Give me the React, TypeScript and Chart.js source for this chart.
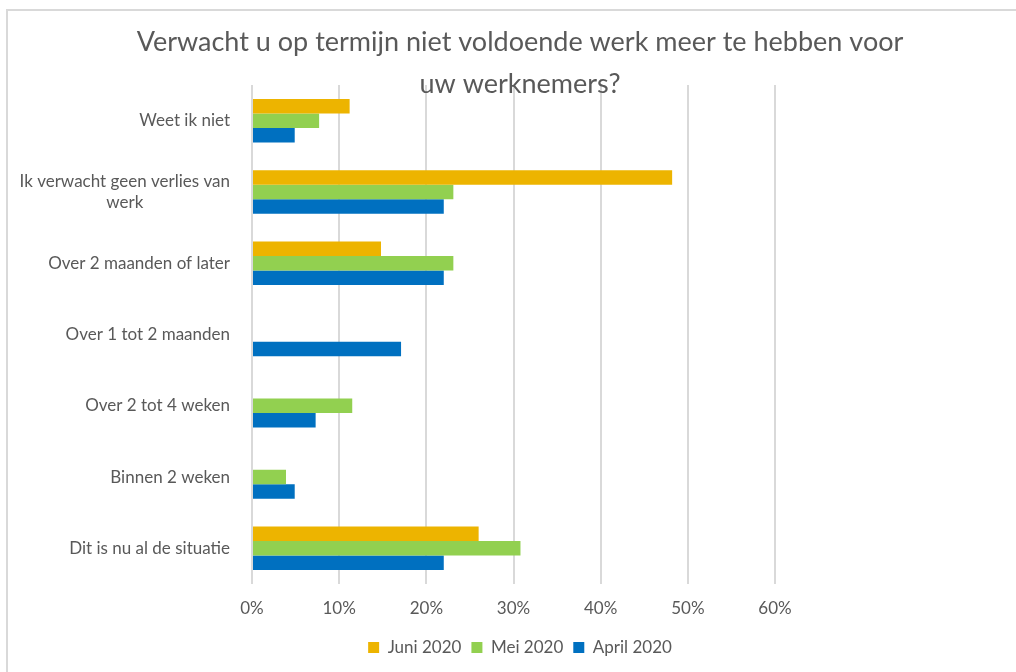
import React, { useEffect, useRef } from "react";
import { Chart, registerables } from "chart.js";

Chart.register(...registerables);

const TITLE_LINES = [
  "Verwacht u op termijn niet voldoende werk meer te hebben voor",
  "uw werknemers?",
];

const categories: (string | string[])[] = [
  "Weet ik niet",
  ["Ik verwacht geen verlies van", "werk"],
  "Over 2 maanden of later",
  "Over 1 tot 2 maanden",
  "Over 2 tot 4 weken",
  "Binnen 2 weken",
  "Dit is nu al de situatie",
];

const juni2020: (number | null)[] = [11.2, 48.2, 14.8, null, null, null, 26.0];
const mei2020: (number | null)[] = [7.7, 23.1, 23.1, null, 11.5, 3.9, 30.8];
const april2020: (number | null)[] = [4.9, 22.0, 22.0, 17.1, 7.3, 4.9, 22.0];

const seriesNames = ["Juni 2020", "Mei 2020", "April 2020"];
const seriesColors = ["#EDB400", "#92D050", "#0070C0"];

const xTicks = [0, 10, 20, 30, 40, 50, 60];

const FONT = "Lato";
const TEXT = "#595959";

const yLabelPlugin = {
  id: "yLabelPlugin",
  afterDraw(chart: any) {
    const { ctx, chartArea, scales } = chart;
    const y = scales.y;
    ctx.save();
    ctx.font = `17px ${FONT}`;
    ctx.fillStyle = TEXT;
    ctx.textBaseline = "middle";
    ctx.textAlign = "center";
    const right = chartArea.left - 22;
    categories.forEach((lab, i) => {
      const lines = Array.isArray(lab) ? lab : [lab];
      const w = Math.max(...lines.map((l) => ctx.measureText(l).width));
      const cx = right - w / 2;
      const cy = y.getPixelForTick(i);
      lines.forEach((l, j) => {
        ctx.fillText(l, cx, cy + (j - (lines.length - 1) / 2) * 21.5);
      });
    });
    ctx.restore();
  },
};

export default function App() {
  const ref = useRef<HTMLCanvasElement>(null);

  useEffect(() => {
    if (!ref.current) return;
    const data = [juni2020, mei2020, april2020];
    const chart = new Chart(ref.current, {
      type: "bar",
      data: {
        labels: categories as any,
        datasets: seriesNames.map((name, i) => ({
          label: name,
          data: data[i],
          backgroundColor: seriesColors[i],
          borderWidth: 0,
          barPercentage: 1,
          categoryPercentage: 0.61,
          yAxisID: "y",
        })),
      },
      options: {
        indexAxis: "y",
        animation: false,
        responsive: false,
        maintainAspectRatio: false,
        layout: { padding: { left: 0, right: 0, top: 0, bottom: 6 } },
        plugins: {
          title: {
            display: true,
            text: TITLE_LINES,
            color: TEXT,
            font: { family: FONT, size: 27, weight: "normal", lineHeight: 1.556 },
            padding: { top: 21, bottom: -20 },
          },
          legend: {
            position: "bottom",
            labels: {
              color: TEXT,
              font: { family: FONT, size: 17 },
              boxWidth: 11,
              boxHeight: 11,
              padding: 10,
            },
          },
          tooltip: { enabled: false },
        },
        scales: {
          x: {
            min: 0,
            max: 60,
            afterBuildTicks: (s: any) => {
              s.ticks = xTicks.map((v) => ({ value: v }));
            },
            afterFit: (s: any) => {
              s.height = 45;
            },
            grid: { color: "#d9d9d9", lineWidth: 2, drawTicks: false },
            border: { display: false },
            ticks: {
              color: TEXT,
              font: { family: FONT, size: 17 },
              padding: 14,
              callback: (v: any) => `${v}%`,
            },
          },
          y: {
            afterFit: (s: any) => {
              s.width = 252;
            },
            grid: { display: false, drawTicks: false },
            border: { display: false },
            ticks: { display: false },
          },
          yRight: {
            type: "category",
            position: "right",
            display: true,
            afterFit: (s: any) => {
              s.width = 265;
            },
            grid: { display: false, drawTicks: false },
            border: { display: false },
            ticks: { display: false },
          },
        },
      },
      plugins: [yLabelPlugin],
    });
    return () => chart.destroy();
  }, []);

  return (
    <div style={{ position: "fixed", left: 0, top: 0, width: 1016, height: 672, overflow: "hidden", background: "#fff" }}>
      <canvas
        ref={ref}
        width={1040}
        height={672}
        style={{ position: "absolute", left: 0, top: 0, width: 1040, height: 672 }}
      />
      <div
        style={{
          position: "absolute",
          left: 6,
          top: 9,
          width: 1010,
          height: 663,
          borderTop: "2px solid #d9d9d9",
          borderLeft: "2px solid #d9d9d9",
          boxSizing: "border-box",
          pointerEvents: "none",
        }}
      />
    </div>
  );
}
